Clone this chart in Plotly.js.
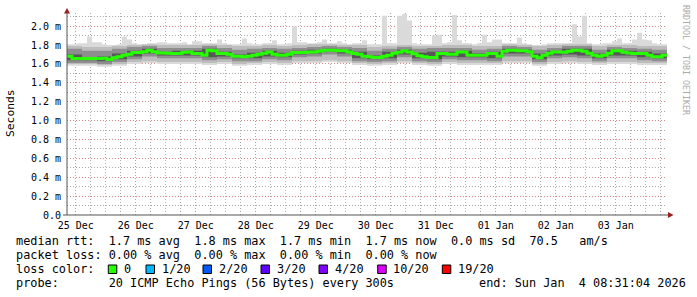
<!DOCTYPE html>
<html><head><meta charset="utf-8">
<script src="https://cdn.plot.ly/plotly-3.0.1.min.js"></script>
<style>html,body{margin:0;padding:0;background:#fff}#g{width:697px;height:297px}</style>
</head><body><div id="g"></div>
<script>
// ---- data (values in milliseconds) ----
const startTime = '2025-12-25 08:31:04';
const endTime = '2026-01-04 08:31:04';
// median RTT, one value per 2 hours
const medianRtt = [1.683,1.658,1.658,1.658,1.658,1.658,1.658,1.661,1.648,1.667,
1.677,1.693,1.704,1.722,1.722,1.730,1.746,1.730,1.717,1.717,
1.714,1.711,1.711,1.725,1.728,1.711,1.711,1.693,1.746,1.741,
1.711,1.711,1.704,1.683,1.683,1.676,1.683,1.693,1.704,1.714,
1.728,1.704,1.693,1.693,1.704,1.722,1.722,1.722,1.728,1.728,
1.735,1.746,1.746,1.746,1.739,1.739,1.728,1.711,1.704,1.683,
1.676,1.669,1.669,1.683,1.693,1.714,1.725,1.739,1.728,1.709,
1.688,1.676,1.669,1.669,1.711,1.711,1.704,1.704,1.728,1.728,
1.693,1.693,1.693,1.693,1.711,1.711,1.683,1.735,1.746,1.746,
1.739,1.739,1.730,1.683,1.667,1.693,1.714,1.728,1.728,1.725,
1.735,1.746,1.746,1.735,1.714,1.693,1.683,1.693,1.714,1.739,
1.739,1.725,1.717,1.711,1.711,1.711,1.693,1.676,1.676,1.693];
// highest ping of each 2 hour slot (the smoke top incl. spikes)
const pingMax = [1.81,1.81,1.82,1.82,1.89,1.83,1.83,1.81,1.80,1.80,
1.81,1.89,1.86,1.82,1.81,1.81,1.82,1.82,1.83,1.83,
1.82,1.82,1.82,1.83,1.81,1.84,1.84,1.82,1.82,1.82,
1.86,1.82,1.81,1.81,1.81,1.87,1.82,1.81,1.81,1.82,
1.82,1.85,1.81,1.81,1.82,2.00,1.83,1.83,1.82,1.82,
1.83,1.86,1.82,1.82,1.84,1.82,1.81,1.82,1.82,1.85,
1.81,1.81,1.81,2.11,1.82,1.82,2.11,2.13,2.06,1.82,
1.81,1.81,1.81,1.90,1.91,1.82,1.83,2.12,1.85,1.82,
1.82,1.81,1.82,1.91,1.83,1.86,1.86,1.82,1.82,1.82,
1.88,1.82,1.81,1.80,1.80,1.81,1.82,1.82,1.82,1.82,
1.82,2.02,1.89,2.11,1.82,1.81,1.81,1.82,1.82,1.84,
1.87,1.82,1.82,1.86,1.93,1.86,1.85,1.82,1.81,1.81];
// smoke bands, one value per 6 hours
const pingMin = [1.58,1.58,1.57,1.58,1.60,1.61,1.60,1.60,1.60,1.59,1.60,1.58,1.59,1.60,1.59,1.61,1.61,1.62,1.61,1.59,
1.58,1.59,1.61,1.59,1.58,1.60,1.59,1.59,1.59,1.61,1.61,1.58,1.60,1.61,1.60,1.59,1.60,1.60,1.59,1.59];
const outerLo = [1.60,1.60,1.59,1.60,1.62,1.63,1.62,1.62,1.62,1.61,1.62,1.60,1.61,1.62,1.61,1.63,1.63,1.64,1.63,1.61,
1.60,1.61,1.63,1.61,1.60,1.62,1.61,1.61,1.61,1.63,1.63,1.60,1.62,1.63,1.62,1.61,1.62,1.62,1.61,1.61];
const outerHi = [1.79,1.78,1.78,1.79,1.80,1.81,1.80,1.80,1.80,1.81,1.80,1.79,1.79,1.80,1.79,1.80,1.81,1.81,1.80,1.80,
1.78,1.79,1.80,1.79,1.79,1.80,1.80,1.79,1.79,1.81,1.80,1.79,1.80,1.81,1.81,1.79,1.80,1.80,1.79,1.79];
const midLo = [1.61,1.61,1.60,1.62,1.65,1.68,1.66,1.66,1.66,1.64,1.65,1.63,1.63,1.65,1.64,1.67,1.68,1.70,1.68,1.63,
1.62,1.63,1.67,1.63,1.62,1.65,1.64,1.64,1.63,1.68,1.68,1.62,1.66,1.67,1.66,1.63,1.66,1.66,1.64,1.63];
const midHi = [1.76,1.74,1.74,1.76,1.78,1.79,1.77,1.77,1.77,1.79,1.77,1.75,1.76,1.77,1.76,1.77,1.78,1.79,1.78,1.77,
1.74,1.76,1.78,1.76,1.77,1.77,1.77,1.75,1.76,1.79,1.78,1.75,1.77,1.79,1.79,1.75,1.78,1.77,1.76,1.75];
const coreLo = [1.64,1.64,1.63,1.65,1.68,1.71,1.69,1.69,1.69,1.67,1.68,1.66,1.66,1.68,1.67,1.70,1.71,1.73,1.71,1.66,
1.65,1.66,1.70,1.66,1.65,1.68,1.67,1.67,1.66,1.71,1.71,1.65,1.69,1.70,1.69,1.66,1.69,1.69,1.67,1.66];
const coreHi = [1.70,1.67,1.68,1.71,1.74,1.76,1.73,1.74,1.74,1.76,1.73,1.70,1.72,1.74,1.72,1.74,1.75,1.76,1.75,1.73,
1.69,1.73,1.75,1.72,1.73,1.73,1.74,1.71,1.73,1.76,1.75,1.71,1.74,1.76,1.76,1.71,1.75,1.74,1.73,1.71];
// y tick labels
const yTickVals = [0,0.2,0.4,0.6,0.8,1.0,1.2,1.4,1.6,1.8,2.0];
const yTickText = ['0.0','0.2 m','0.4 m','0.6 m','0.8 m','1.0 m','1.2 m','1.4 m','1.6 m','1.8 m','2.0 m'];
// legend texts
const rttStats = ['1.7 ms avg','1.8 ms max','1.7 ms min','1.7 ms now','0.0 ms sd','70.5   am/s'];
const lossStats = ['0.00 % avg','0.00 % max','0.00 % min','0.00 % now'];
const lossLabels = ['0','1/20','2/20','3/20','4/20','10/20','19/20'];
const lossColors = ['#26ff00','#00b8ff','#0059ff','#5e00ff','#7e00ff','#dd00ff','#ff0000'];
const probeText = '20 ICMP Echo Pings (56 Bytes) every 300s';
const endText = 'end: Sun Jan  4 08:31:04 2026';

// ---- helpers ----
const t0 = Date.parse(startTime.replace(' ','T')+'Z');
const t1 = Date.parse(endTime.replace(' ','T')+'Z');
const iso = ms => new Date(ms).toISOString().replace('T',' ').replace('Z','');
function stepX(n){ const st=(t1-t0)/n; const a=[]; for(let i=0;i<=n;i++) a.push(iso(t0+i*st)); return a; }
const ext = arr => arr.concat([arr[arr.length-1]]);
const x120 = stepX(medianRtt.length), x40 = stepX(pingMin.length);
const nb = s => s.replace(/ /g,'\u00a0');

function band(xLo, lo, xHi, hi, color){
  return [
    {x:xLo, y:ext(lo), type:'scatter', mode:'lines', line:{shape:'hv', width:0}, hoverinfo:'skip', showlegend:false},
    {x:xHi, y:ext(hi), type:'scatter', mode:'lines', line:{shape:'hv', width:0}, fill:'tonexty', fillcolor:color, hoverinfo:'skip', showlegend:false}
  ];
}
const traces = [].concat(
  band(x40, pingMin, x120, pingMax, '#dadada'),
  band(x40, outerLo, x40, outerHi, '#bdbdbd'),
  band(x40, midLo, x40, midHi, '#8e8e8e'),
  band(x40, coreLo, x40, coreHi, '#575757'),
  [{x:x120, y:ext(medianRtt), type:'scatter', mode:'lines', line:{shape:'hv', width:3, color:'#26ff00'}, showlegend:false}]
);

// pixel -> paper helpers (plot area 67..667 x, 13..215 y)
const PX = X => (X-67)/600, PY = Y => (215-Y)/202;
const mono = 'DejaVu Sans Mono';
const lf = {family:mono, size:11.85, color:'#000'};
const ann = [];
function txt(X, Y, s, opts){ ann.push(Object.assign({xref:'paper', yref:'paper', x:PX(X), y:PY(Y), text:nb(s), showarrow:false, xanchor:'left', yanchor:'middle', font:lf, borderpad:0}, opts||{})); }
txt(14.5, 241, 'median rtt:  ' + rttStats.join('  '));
txt(14.5, 255, 'packet loss: ' + lossStats.join('  '));
txt(14.5, 269.3, 'loss color:');
txt(14.5, 283.3, 'probe:       ' + probeText);
txt(478.3, 283.3, endText);
const swX = [108.3,146,203,261,319,377.7,442.3];
const shapes = [];
lossLabels.forEach((l,i)=>{
  txt(swX[i]+14.7, 269.3, l);
  shapes.push({type:'rect', xref:'paper', yref:'paper', x0:PX(swX[i]), x1:PX(swX[i]+8.5), y0:PY(273.5), y1:PY(265), fillcolor:lossColors[i], line:{color:'#000', width:1}});
});
ann.push({xref:'paper', yref:'paper', x:PX(10.5), y:PY(113.5), xanchor:'center', yanchor:'middle', text:'Seconds', textangle:-90, showarrow:false, font:{family:mono, size:11.3, color:'#000'}});
ann.push({xref:'paper', yref:'paper', x:PX(686), y:PY(60), xanchor:'center', yanchor:'middle', text:nb('RRDTOOL / TOBI OETIKER'), textangle:90, showarrow:false, font:{family:mono, size:8.3, color:'#aaaaaa'}});
// axes lines and arrows
const axc = '#555555', arc = '#9b2020';
shapes.push({type:'line', xref:'paper', yref:'paper', x0:0, x1:0, y0:PY(215), y1:PY(12), line:{color:axc, width:1}});
shapes.push({type:'line', xref:'paper', yref:'paper', x0:PX(63), x1:PX(669), y0:0, y1:0, line:{color:axc, width:1}});
shapes.push({type:'path', xref:'paper', yref:'paper', path:`M ${PX(67)} ${PY(8)} L ${PX(64)} ${PY(13.5)} L ${PX(70)} ${PY(13.5)} Z`, fillcolor:arc, line:{width:0}});
shapes.push({type:'path', xref:'paper', yref:'paper', path:`M ${PX(673.5)} ${PY(215)} L ${PX(668)} ${PY(212)} L ${PX(668)} ${PY(218)} Z`, fillcolor:arc, line:{width:0}});

const majorGrid = 'rgba(235,120,120,0.75)', minorGrid = 'rgba(140,140,140,0.75)';
const layout = {
  width:697, height:297, margin:{l:67, r:30, t:13, b:82},
  paper_bgcolor:'#fff', plot_bgcolor:'#fff', showlegend:false,
  xaxis:{type:'date', range:[startTime, endTime], tick0:'2025-12-25', dtick:86400000, ticklabelmode:'period', tickformat:'%d %b',
    showgrid:true, gridcolor:majorGrid, griddash:'1px,2px', gridwidth:1, zeroline:false, showline:false, ticks:'', ticklabelstandoff:3,
    tickfont:{family:mono, size:10, color:'#000'},
    minor:{tick0:'2025-12-25', dtick:21600000, showgrid:true, gridcolor:minorGrid, griddash:'1px,2px', gridwidth:1}},
  yaxis:{range:[0,2.14], tickmode:'array', tickvals:yTickVals, ticktext:yTickText, showgrid:true, gridcolor:majorGrid, griddash:'1px,2px',
    zeroline:false, showline:false, ticks:'', ticklabelstandoff:5, tickfont:{family:mono, size:10, color:'#000'},
    minor:{tickmode:'linear', tick0:0, dtick:0.1, showgrid:true, gridcolor:minorGrid, griddash:'1px,2px', gridwidth:1}},
  annotations:ann, shapes:shapes
};
Plotly.newPlot('g', traces, layout, {staticPlot:true, displayModeBar:false});
</script></body></html>
